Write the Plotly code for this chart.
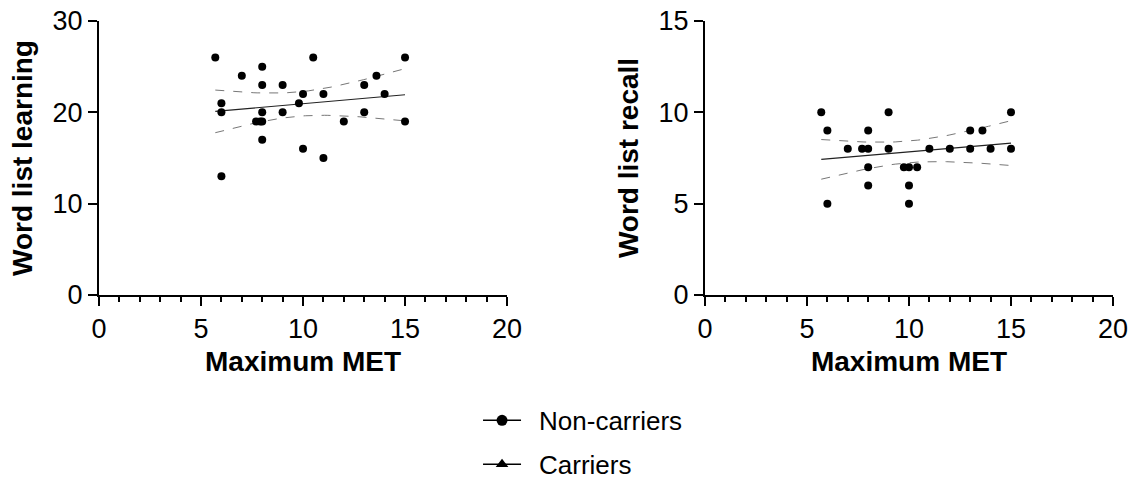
import numpy as np
import plotly.graph_objects as go

# ---- data ----
met_learning = [5.7, 6, 6, 6, 7, 8, 8, 8, 7.7, 7.9, 8, 8, 9, 9, 9.8, 10, 10, 10.5, 11, 11, 12, 13, 13, 13.6, 14, 15, 15]
word_learning = [26, 21, 20, 13, 24, 25, 23, 20, 19, 19, 19, 17, 23, 20, 21, 22, 16, 26, 22, 15, 19, 23, 20, 24, 22, 26, 19]

met_recall = [5.7, 6, 6, 7, 7.7, 8, 8, 8, 8, 9, 9, 9.75, 10, 10.4, 10, 10, 11, 12, 13, 13, 13.6, 14, 15, 15]
word_recall = [10, 9, 5, 8, 8, 8, 9, 7, 6, 10, 8, 7, 7, 7, 6, 5, 8, 8, 9, 8, 9, 8, 10, 8]

x_ticks = [0, 5, 10, 15, 20]
y_ticks_learning = [0, 10, 20, 30]
y_ticks_recall = [0, 5, 10, 15]

FONT = "Liberation Sans, Arial, sans-serif"


def fit_with_ci(x, y):
    x = np.asarray(x, float)
    y = np.asarray(y, float)
    n = len(x)
    b, a = np.polyfit(x, y, 1)
    resid = y - (a + b * x)
    s = np.sqrt(np.sum(resid ** 2) / (n - 2))
    xm = x.mean()
    sxx = np.sum((x - xm) ** 2)
    xs = np.linspace(x.min(), x.max(), 60)
    yhat = a + b * xs
    t = 2.06
    half = t * s * np.sqrt(1.0 / n + (xs - xm) ** 2 / sxx)
    return xs, yhat, yhat - half, yhat + half


fig = go.Figure()

panels = [
    (met_learning, word_learning, "x", "y"),
    (met_recall, word_recall, "x2", "y2"),
]
for xv, yv, xa, ya in panels:
    xs, yhat, lo, hi = fit_with_ci(xv, yv)
    for band in (lo, hi):
        fig.add_trace(go.Scatter(x=xs, y=band, mode="lines", xaxis=xa, yaxis=ya,
                                 line=dict(color="#777777", width=1, dash="dash"),
                                 showlegend=False, hoverinfo="skip"))
    fig.add_trace(go.Scatter(x=xs, y=yhat, mode="lines", xaxis=xa, yaxis=ya,
                             line=dict(color="#222", width=1.2),
                             showlegend=False, hoverinfo="skip"))
    fig.add_trace(go.Scatter(x=xv, y=yv, mode="markers", xaxis=xa, yaxis=ya,
                             marker=dict(color="black", size=8, symbol="circle"),
                             showlegend=False))

# legend entries
fig.add_trace(go.Scatter(x=[None], y=[None], mode="lines+markers", name="\u2002Non-carriers",
                         legendgroup="a",
                         line=dict(color="black", width=1.5),
                         marker=dict(color="black", size=11, symbol="circle")))
fig.add_trace(go.Scatter(x=[None], y=[None], mode="lines+markers", name="\u2002Carriers",
                         legendgroup="b",
                         line=dict(color="black", width=1.5),
                         marker=dict(color="black", size=11, symbol="triangle-up")))

axis_common = dict(
    showline=True, linecolor="black", linewidth=2, mirror=False,
    showgrid=False, zeroline=False, automargin=False,
    ticks="outside", ticklen=9, tickwidth=2, tickcolor="black",
    tickfont=dict(family=FONT, size=27, color="black"),
)
title_font = dict(family=FONT, size=28, color="black")
xaxis_common = dict(axis_common, range=[0, 20], tickvals=x_ticks,
                    minor=dict(dtick=1, ticks="outside", ticklen=5, tickwidth=2, tickcolor="black"),
                    title=dict(text="<b>Maximum MET</b>", font=title_font, standoff=8))

fig.update_layout(
    width=1142, height=487,
    margin=dict(l=99, r=29, t=21, b=192, autoexpand=False),
    paper_bgcolor="white", plot_bgcolor="white",
    xaxis=dict(xaxis_common, domain=[0, 0.4024], anchor="y"),
    xaxis2=dict(xaxis_common, domain=[0.5976, 1.0], anchor="y2"),
    yaxis=dict(axis_common, range=[0, 30], tickvals=y_ticks_learning, anchor="x",
               title=dict(text="<b>Word list learning</b>", font=title_font, standoff=12)),
    yaxis2=dict(axis_common, range=[0, 15], tickvals=y_ticks_recall, anchor="x2",
                title=dict(text="<b>Word list recall</b>", font=title_font, standoff=12)),
    showlegend=True,
    legend=dict(x=0.3738, y=-0.372, xanchor="left", yanchor="top",
                traceorder="grouped", tracegroupgap=7, itemwidth=38,
                font=dict(family=FONT, size=26, color="black"),
                bgcolor="rgba(0,0,0,0)"),
)

fig.write_html("out.html", config={"displayModeBar": False},
               post_script="document.body.style.margin='0px';")
